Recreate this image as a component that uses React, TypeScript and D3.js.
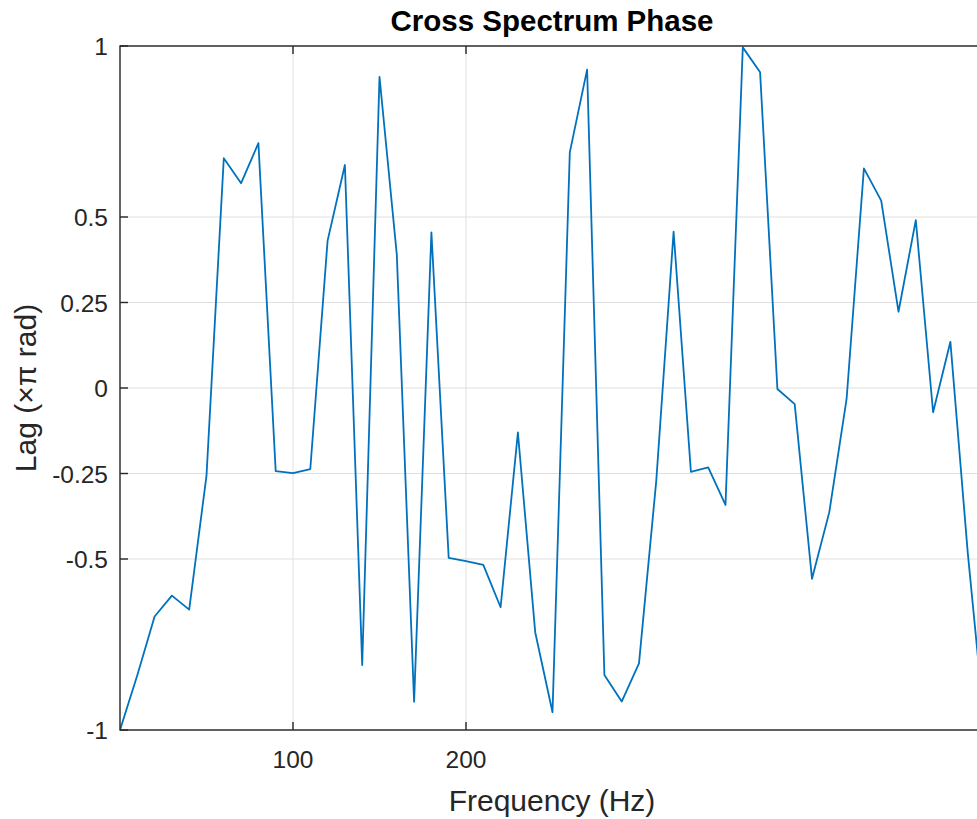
import React from "react";
import * as d3 from "d3";

// Frequencies (Hz)
const frequencies = [
  0, 10, 20, 30, 40, 50, 60, 70, 80, 90,
  100, 110, 120, 130, 140, 150, 160, 170, 180, 190,
  200, 210, 220, 230, 240, 250, 260, 270, 280, 290,
  300, 310, 320, 330, 340, 350, 360, 370, 380, 390,
  400, 410, 420, 430, 440, 450, 460, 470, 480, 490, 500,
];

// Lag in units of pi rad
const lagValues = [
  -1.0, -0.84, -0.668, -0.607, -0.648, -0.256, 0.672, 0.599, 0.716, -0.243,
  -0.249, -0.237, 0.431, 0.652, -0.81, 0.91, 0.39, -0.917, 0.455, -0.497,
  -0.506, -0.517, -0.641, -0.13, -0.714, -0.948, 0.689, 0.931, -0.839, -0.917,
  -0.805, -0.27, 0.457, -0.245, -0.232, -0.342, 0.996, 0.923, -0.003, -0.047,
  -0.558, -0.363, -0.032, 0.642, 0.548, 0.223, 0.491, -0.071, 0.135, -0.48, -1.0,
];

const xTickValues = [100, 200];
const yTickValues = [-1, -0.5, -0.25, 0, 0.25, 0.5, 1];
const yTickLabels = ["-1", "-0.5", "-0.25", "0", "0.25", "0.5", "1"];

const titleText = "Cross Spectrum Phase";
const xLabelText = "Frequency (Hz)";
const yLabelText = "Lag (\u00D7\u03C0 rad)";

export default function App() {
  const W = 977;
  const H = 819;
  const left = 120;
  const right = 985;
  const top = 46;
  const bottom = 730;

  const x = d3.scaleLinear().domain([0, 500]).range([left, right]);
  const y = d3.scaleLinear().domain([-1, 1]).range([bottom, top]);

  const data = frequencies.map((f, i) => [f, lagValues[i]] as [number, number]);
  const line = d3
    .line<[number, number]>()
    .x((d) => x(d[0]))
    .y((d) => y(d[1]));

  const axisColor = "#262626";
  const gridColor = "#dfdfdf";
  const font = "'Liberation Sans', Arial, Helvetica, sans-serif";
  const tickLen = 8;

  return (
    <svg
      width={W}
      height={H}
      style={{ position: "absolute", left: 0, top: 0, background: "#fff", overflow: "hidden" }}
      fontFamily={font}
    >
      <rect x={0} y={0} width={W} height={H} fill="#fff" />
      <defs>
        <clipPath id="plotClip">
          <rect x={left} y={top} width={right - left} height={bottom - top} />
        </clipPath>
      </defs>

      {/* grid */}
      {xTickValues.map((t) => (
        <line key={"gx" + t} x1={x(t)} x2={x(t)} y1={top} y2={bottom} stroke={gridColor} strokeWidth={1} />
      ))}
      {yTickValues.map((t) => (
        <line key={"gy" + t} x1={left} x2={right} y1={y(t)} y2={y(t)} stroke={gridColor} strokeWidth={1} />
      ))}

      {/* data line */}
      <path
        d={line(data) || ""}
        fill="none"
        stroke="#0072BD"
        strokeWidth={1.8}
        strokeLinejoin="round"
        clipPath="url(#plotClip)"
      />

      {/* box */}
      <rect x={left} y={top} width={right - left} height={bottom - top} fill="none" stroke={axisColor} strokeWidth={1.4} />

      {/* ticks */}
      {xTickValues.map((t) => (
        <g key={"xt" + t}>
          <line x1={x(t)} x2={x(t)} y1={bottom} y2={bottom - tickLen} stroke={axisColor} strokeWidth={1.4} />
          <line x1={x(t)} x2={x(t)} y1={top} y2={top + tickLen} stroke={axisColor} strokeWidth={1.4} />
          <text x={x(t)} y={768} textAnchor="middle" fontSize={24.5} fill={axisColor}>
            {t}
          </text>
        </g>
      ))}
      {yTickValues.map((t, i) => (
        <g key={"yt" + t}>
          <line x1={left} x2={left + tickLen} y1={y(t)} y2={y(t)} stroke={axisColor} strokeWidth={1.4} />
          <text x={108} y={y(t)} dy="0.37em" textAnchor="end" fontSize={24.5} fill={axisColor}>
            {yTickLabels[i]}
          </text>
        </g>
      ))}

      {/* title */}
      <text x={552} y={31} textAnchor="middle" fontSize={29.5} fontWeight="bold" fill="#000">
        {titleText}
      </text>

      {/* x label */}
      <text x={552} y={811} textAnchor="middle" fontSize={30} fill={axisColor}>
        {xLabelText}
      </text>

      {/* y label */}
      <text
        transform={`translate(36, ${(top + bottom) / 2}) rotate(-90)`}
        textAnchor="middle"
        fontSize={30}
        fill={axisColor}
      >
        {yLabelText}
      </text>
    </svg>
  );
}
